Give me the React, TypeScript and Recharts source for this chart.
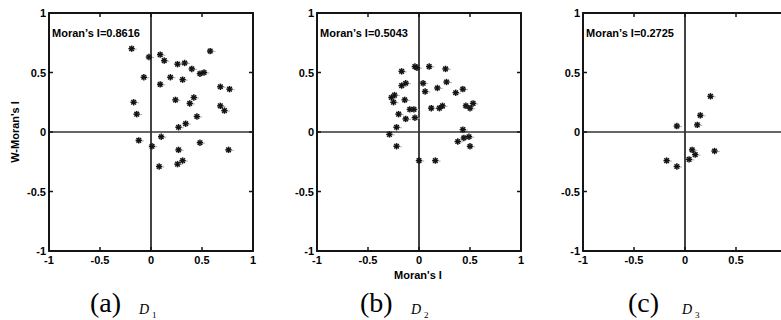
import React from 'react';
import { ScatterChart, Scatter, XAxis, YAxis, ReferenceLine, ReferenceArea } from 'recharts';

const axisTicks = [-1, -0.5, 0, 0.5, 1];
const clippedTicks = [-1, -0.5, 0, 0.5];

// D1 scatter: (Moran's I, W-Moran's I)
const d1Points = [
  { x: -0.19, y: 0.70 }, { x: -0.02, y: 0.63 }, { x: 0.09, y: 0.65 }, { x: 0.13, y: 0.60 },
  { x: 0.26, y: 0.57 }, { x: 0.33, y: 0.58 }, { x: 0.40, y: 0.53 }, { x: 0.58, y: 0.68 },
  { x: 0.48, y: 0.49 }, { x: 0.52, y: 0.50 }, { x: -0.07, y: 0.46 }, { x: 0.19, y: 0.46 },
  { x: 0.31, y: 0.44 }, { x: 0.09, y: 0.40 }, { x: 0.68, y: 0.38 }, { x: 0.77, y: 0.36 },
  { x: -0.17, y: 0.25 }, { x: -0.14, y: 0.15 }, { x: 0.24, y: 0.27 }, { x: 0.42, y: 0.29 },
  { x: 0.38, y: 0.24 }, { x: 0.68, y: 0.22 }, { x: 0.72, y: 0.18 }, { x: 0.45, y: 0.13 },
  { x: 0.34, y: 0.07 }, { x: 0.27, y: 0.04 }, { x: -0.12, y: -0.07 }, { x: 0.10, y: -0.04 },
  { x: 0.01, y: -0.12 }, { x: 0.48, y: -0.09 }, { x: 0.76, y: -0.15 }, { x: 0.27, y: -0.15 },
  { x: 0.31, y: -0.24 }, { x: 0.26, y: -0.27 }, { x: 0.08, y: -0.29 },
];

const d2Points = [
  { x: -0.04, y: 0.55 }, { x: -0.02, y: 0.54 }, { x: 0.10, y: 0.55 }, { x: 0.26, y: 0.53 },
  { x: -0.17, y: 0.51 }, { x: -0.13, y: 0.41 }, { x: -0.17, y: 0.39 }, { x: 0.04, y: 0.41 },
  { x: 0.27, y: 0.42 }, { x: 0.06, y: 0.34 }, { x: 0.18, y: 0.37 }, { x: 0.36, y: 0.33 },
  { x: 0.43, y: 0.36 }, { x: -0.27, y: 0.29 }, { x: -0.24, y: 0.31 }, { x: -0.25, y: 0.25 },
  { x: -0.14, y: 0.27 }, { x: -0.09, y: 0.19 }, { x: -0.05, y: 0.19 }, { x: 0.12, y: 0.20 },
  { x: 0.20, y: 0.20 }, { x: 0.23, y: 0.22 }, { x: 0.46, y: 0.22 }, { x: 0.50, y: 0.20 },
  { x: 0.53, y: 0.24 }, { x: -0.20, y: 0.15 }, { x: -0.13, y: 0.11 }, { x: -0.04, y: 0.12 },
  { x: -0.22, y: 0.04 }, { x: -0.29, y: -0.02 }, { x: -0.22, y: -0.12 }, { x: 0.43, y: 0.02 },
  { x: 0.38, y: -0.08 }, { x: 0.44, y: -0.05 }, { x: 0.49, y: -0.04 }, { x: 0.50, y: -0.12 },
  { x: 0.00, y: -0.24 }, { x: 0.16, y: -0.24 },
];

const d3Points = [
  { x: 0.25, y: 0.30 }, { x: 0.15, y: 0.14 }, { x: -0.08, y: 0.05 }, { x: 0.12, y: 0.06 },
  { x: 0.07, y: -0.15 }, { x: 0.10, y: -0.19 }, { x: 0.29, y: -0.16 }, { x: -0.18, y: -0.24 },
  { x: 0.04, y: -0.23 }, { x: -0.08, y: -0.29 },
];

const moranValues = ['0.8616', '0.5043', '0.2725'];
const panelLetters = ['(a)', '(b)', '(c)'];
const subsetIndex = ['1', '2', '3'];

const sans = '"Liberation Sans", Arial, sans-serif';
const serif = '"Liberation Serif", "Times New Roman", serif';

const INK = '#141414';
const PLOT_W = 204;
const PLOT_H = 238;

// ticks point inwards on all four sides, matlab "box on" style
const BottomTick = (props: any) => {
  const { x, y, payload } = props;
  return (
    <g>
      <path d={`M${x},${y}V${y - 4}M${x},${y - PLOT_H}V${y - PLOT_H + 4}`} stroke={INK} strokeWidth={1.5} fill="none" />
      <text x={x} y={y + 13} textAnchor="middle" fontFamily={sans} fontWeight="bold" fontSize={11} fill="#000">
        {payload.value}
      </text>
    </g>
  );
};

const LeftTick = (props: any) => {
  const { x, y, payload } = props;
  return (
    <g>
      <path d={`M${x},${y}H${x + 4}M${x + PLOT_W},${y}H${x + PLOT_W - 4}`} stroke={INK} strokeWidth={1.5} fill="none" />
      <text x={x - 3} y={y + 4} textAnchor="end" fontFamily={sans} fontWeight="bold" fontSize={11} fill="#000">
        {payload.value}
      </text>
    </g>
  );
};

const Asterisk = (props: any) => {
  const { cx, cy } = props;
  const r = 3.2;
  const d = 2.3;
  return (
    <g stroke={INK} strokeWidth={1.5}>
      <line x1={cx - r} y1={cy} x2={cx + r} y2={cy} />
      <line x1={cx} y1={cy - r} x2={cx} y2={cy + r} />
      <line x1={cx - d} y1={cy - d} x2={cx + d} y2={cy + d} />
      <line x1={cx - d} y1={cy + d} x2={cx + d} y2={cy - d} />
      <line x1={cx + r} y1={cy + 0.5} x2={cx + r + 2} y2={cy + 0.5} stroke="#aaa" strokeWidth={1} />
    </g>
  );
};

const frame = { stroke: INK, strokeWidth: 1.8 };

const Panel = ({ data, left, xTicks }: { data: { x: number; y: number }[]; left: number; xTicks: number[] }) => (
  <div style={{ position: 'absolute', left, top: 0 }}>
    <ScatterChart width={254} height={290} margin={{ top: 13, right: 10, bottom: 0, left: 0 }}>
      <XAxis
        type="number" dataKey="x" domain={[-1, 1]} ticks={xTicks} allowDataOverflow
        height={39} interval={0} tickSize={0} tickMargin={0} tickLine={false}
        axisLine={frame} tick={<BottomTick />}
      />
      <YAxis
        type="number" dataKey="y" domain={[-1, 1]} ticks={axisTicks} allowDataOverflow
        width={40} interval={0} tickSize={0} tickMargin={0} tickLine={false}
        axisLine={frame} tick={<LeftTick />}
      />
      <ReferenceArea x1={-1} x2={1} y1={-1} y2={1} ifOverflow="visible" fill="none" fillOpacity={0} {...frame} />
      <ReferenceLine x={1} ifOverflow="visible" {...frame} />
      <ReferenceLine y={1} ifOverflow="visible" {...frame} />
      <ReferenceLine x={0} ifOverflow="visible" stroke={INK} strokeWidth={1.6} />
      <ReferenceLine y={0} ifOverflow="visible" stroke="#333" strokeWidth={1.6} />
      <Scatter data={data} shape={<Asterisk />} isAnimationActive={false} />
    </ScatterChart>
  </div>
);

const panelLefts = [9, 277, 543];
const captionLefts = [90, 360, 628];
const subsetLefts = [139, 411, 682];

export default function App() {
  const sets = [d1Points, d2Points, d3Points];
  return (
    <div style={{ position: 'fixed', left: 0, top: 0, width: 781, height: 320, overflow: 'hidden', background: '#fff' }}>
      {sets.map((s, i) => (
        <Panel key={i} data={s} left={panelLefts[i]} xTicks={i === 2 ? clippedTicks : axisTicks} />
      ))}
      <svg width={781} height={320} style={{ position: 'absolute', left: 0, top: 0, pointerEvents: 'none' }}>
        {moranValues.map((v, i) => (
          <text key={v} x={panelLefts[i] + 43} y={37} fontFamily={sans} fontWeight="bold" fontSize={11} fill="#000">
            {`Moran\u2019s I=${v}`}
          </text>
        ))}
        <text x={19} y={132} transform="rotate(-90 19 132)" textAnchor="middle" fontFamily={sans} fontWeight="bold" fontSize={11} fill="#000">
          W-Moran's I
        </text>
        <text x={418} y={279} textAnchor="middle" fontFamily={sans} fontWeight="bold" fontSize={11} fill="#000">
          Moran's I
        </text>
        {panelLetters.map((p, i) => (
          <g key={p}>
            <text x={captionLefts[i]} y={312} fontFamily={serif} fontSize={28} fill="#000">{p}</text>
            <text x={subsetLefts[i]} y={314} fontFamily={serif} fontStyle="italic" fontSize={14} fill="#000">D</text>
            <text x={subsetLefts[i] + 13} y={318} fontFamily={serif} fontSize={9} fill="#000">{subsetIndex[i]}</text>
          </g>
        ))}
      </svg>
    </div>
  );
}
